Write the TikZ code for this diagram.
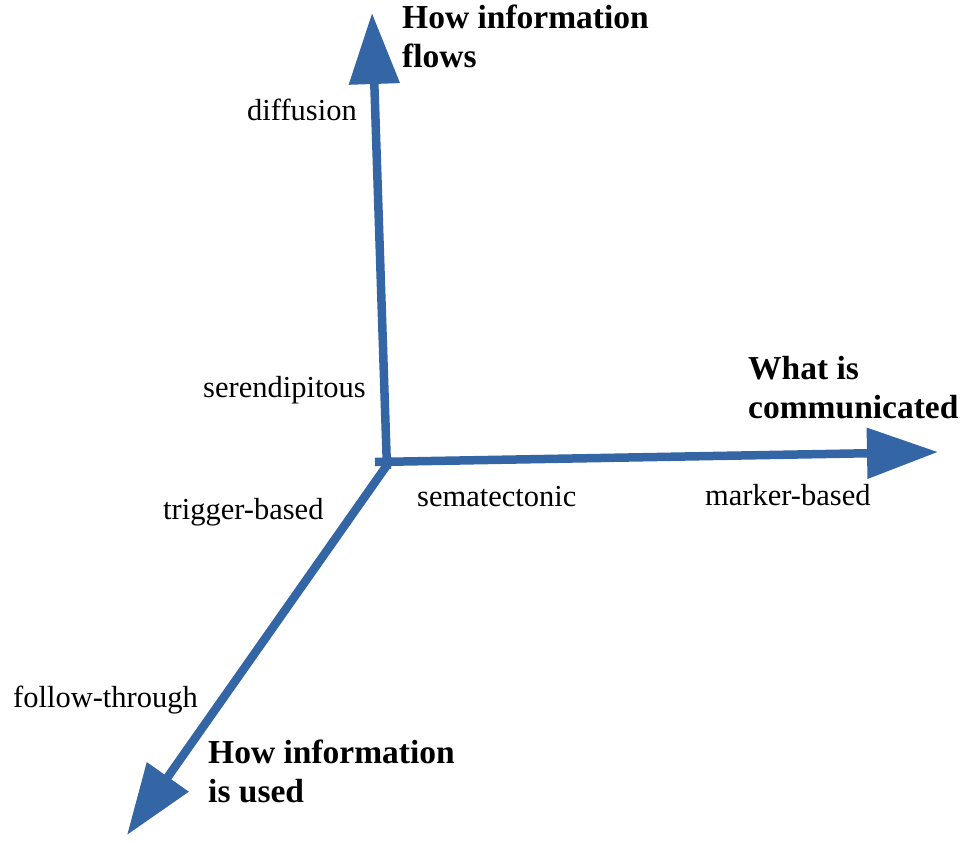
\documentclass[tikz,border=0pt]{standalone}
\usepackage{fontspec}
\setmainfont{Liberation Serif}
\usetikzlibrary{arrows.meta}
\definecolor{axisblue}{RGB}{52,101,164}
\begin{document}
\begin{tikzpicture}[x=1pt,y=-1pt,
  axis/.style={draw=axisblue,line width=8.5pt,-{Triangle[length=71pt,width=49pt]},color=axisblue},
  lbl/.style={anchor=base west,inner sep=0pt,font=\fontsize{30.5}{36}\selectfont},
  title/.style={anchor=base west,inner sep=0pt,align=left,font=\fontsize{33.5}{38.5}\selectfont\bfseries}]
\useasboundingbox (0,0) rectangle (964,841);
\coordinate (O) at (387,462);
\coordinate (Ov) at (387,469);
\coordinate (Oh) at (375,462);
\coordinate (Od) at (392,458);
\coordinate (up) at (372,13);
\coordinate (right) at (938,452);
\coordinate (down) at (127,835);
\draw[axis] (Ov) -- (up);
\draw[axis] (Oh) -- (right);
\draw[axis] (Od) -- (down);
\node[title] (tflows) at (402,67) {How information\\flows};
\node[title] (tcomm) at (748,418) {What is\\communicated};
\node[title] (tused) at (208,802) {How information\\is used};
\node[lbl] (diff) at (247,120) {diffusion};
\node[lbl] (seren) at (203,397) {serendipitous};
\node[lbl] (trig) at (163,519) {trigger-based};
\node[lbl] (sema) at (417,506) {sematectonic};
\node[lbl] (mark) at (705,505) {marker-based};
\node[lbl] (follow) at (13,707) {follow-through};
\end{tikzpicture}
\end{document}
